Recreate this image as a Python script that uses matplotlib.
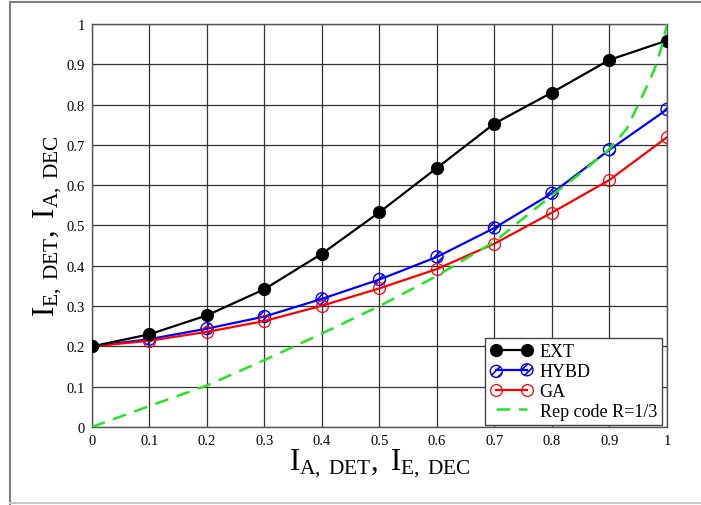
import matplotlib
matplotlib.use("Agg")
import matplotlib.pyplot as plt
from matplotlib.lines import Line2D
from matplotlib.legend_handler import HandlerTuple

plt.rcParams["font.family"] = ["Liberation Serif", "DejaVu Serif"]
plt.rcParams["mathtext.fontset"] = "custom"
plt.rcParams["mathtext.rm"] = "Liberation Serif"
plt.rcParams["mathtext.it"] = "Liberation Serif:italic"
plt.rcParams["hatch.linewidth"] = 1.2

# ── data ──────────────────────────────────────────
I_A = [0, 0.1, 0.2, 0.3, 0.4, 0.5, 0.6, 0.7, 0.8, 0.9, 1.0]
EXT = [0.200, 0.230, 0.277, 0.342, 0.430, 0.533, 0.643, 0.753, 0.830, 0.911, 0.959]
HYBD = [0.200, 0.218, 0.244, 0.274, 0.318, 0.366, 0.422, 0.494, 0.580, 0.688, 0.788]
GA = [0.200, 0.214, 0.236, 0.263, 0.301, 0.344, 0.392, 0.455, 0.532, 0.613, 0.719]

REP_X = [0, 0.1, 0.2, 0.3, 0.4, 0.5, 0.6, 0.7, 0.8, 0.85, 0.9, 0.93, 0.95, 0.97, 0.98, 0.99, 1.0]
REP_Y = [0, 0.052, 0.103, 0.166, 0.232, 0.300, 0.375, 0.460, 0.575, 0.630, 0.690, 0.740,
         0.800, 0.860, 0.895, 0.940, 1.0]

TICKS = [0, 0.1, 0.2, 0.3, 0.4, 0.5, 0.6, 0.7, 0.8, 0.9, 1.0]
TICK_LABELS = ["0", "0.1", "0.2", "0.3", "0.4", "0.5", "0.6", "0.7", "0.8", "0.9", "1"]

fig = plt.figure(figsize=(7.01, 5.06), dpi=100)
ax = fig.add_axes([0.1312, 0.1542, 0.8203, 0.7964])

# outer frame
fig.add_artist(Line2D([0.0143, 0.0143], [0.002, 0.994], color="#808080", lw=1.5,
                      transform=fig.transFigure))
fig.add_artist(Line2D([0.0143, 1.0], [0.994, 0.994], color="#808080", lw=1.5,
                      transform=fig.transFigure))
fig.add_artist(Line2D([0.0143, 1.0], [0.004, 0.004], color="#c8c8c8", lw=1.5,
                      transform=fig.transFigure))

l_ext, = ax.plot(I_A, EXT, "-o", color="black", lw=1.6, ms=8.5, zorder=4)

l_hyb, = ax.plot(I_A, HYBD, "-", color="blue", lw=1.6, zorder=3)
s_hyb = ax.scatter(I_A, HYBD, s=75, facecolors="none", edgecolors="blue",
                   hatch="////", linewidths=1.0, zorder=3)

l_ga, = ax.plot(I_A, GA, "-o", color="red", lw=1.6, ms=8.5, mfc="none",
                mec="red", mew=0.9, zorder=3)

l_rep, = ax.plot(REP_X, REP_Y, "--", color="#22e622", lw=1.8, dashes=(5.5, 3.5), zorder=5)

ax.set_xlim(0, 1)
ax.set_ylim(0, 1)
ax.set_xticks(TICKS)
ax.set_xticklabels(TICK_LABELS)
ax.set_yticks(TICKS)
ax.set_yticklabels(TICK_LABELS)
ax.tick_params(axis="both", labelsize=10.5, length=0, pad=5, colors="black")
ax.grid(True, color="#333333", lw=0.9)
ax.set_axisbelow(True)
for sp in ax.spines.values():
    sp.set_color("#555555")
    sp.set_linewidth(1.0)

ax.set_xlabel(r"$\mathrm{I_{A,\ DET},\ I_{E,\ DEC}}$", fontsize=22, labelpad=0)
ax.set_ylabel(r"$\mathrm{I_{E,\ DET},\ I_{A,\ DEC}}$", fontsize=22, labelpad=2)

ax.legend([l_ext, (l_hyb, s_hyb), l_ga, l_rep],
          ["EXT", "HYBD", "GA", "Rep code R=1/3"],
          handler_map={tuple: HandlerTuple(ndivide=1)},
          loc="lower right", bbox_to_anchor=(0.992, 0.005), fontsize=13,
          numpoints=2, scatterpoints=2, fancybox=False, framealpha=1,
          edgecolor="#444444", borderpad=0.3, labelspacing=0.15,
          handlelength=2.3, handletextpad=0.4, borderaxespad=0)

fig.savefig("out.png", dpi=100)
